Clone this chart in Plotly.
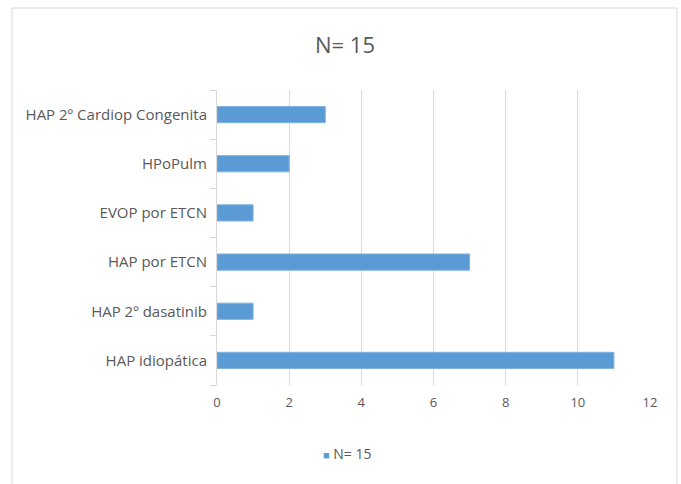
import plotly.graph_objects as go

# Diagnósticos (de abajo hacia arriba) y número de pacientes
categorias = ["HAP idiopática", "HAP 2º dasatinib", "HAP por ETCN",
              "EVOP por ETCN", "HPoPulm", "HAP 2º Cardiop Congenita"]
pacientes = [11, 1, 7, 1, 2, 3]
serie = "N= 15"
x_ticks = [0, 2, 4, 6, 8, 10, 12]

W, H = 681, 484
ML, MR, MT, MB = 217, 31, 90, 99
pw, ph = W - ML - MR, H - MT - MB

gris_texto = "#595959"
gris_linea = "#d9d9d9"
azul = "#5b9bd5"
fuente = "Open Sans"

fig = go.Figure()
fig.add_trace(go.Bar(
    y=categorias, x=pacientes, orientation="h",
    marker=dict(color=azul, line=dict(color="#7fb2e0", width=1)),
    name=serie, showlegend=False,
))

def px_x(p):
    return (p - ML) / pw

def px_y(p):
    return (H - MB - p) / ph

fig.update_layout(
    width=W, height=H,
    margin=dict(l=ML, r=MR, t=MT, b=MB),
    paper_bgcolor="white", plot_bgcolor="white",
    font=dict(family=fuente, size=12, color=gris_texto),
    bargap=0.67,
    showlegend=False,
    title=dict(text="N= 15", x=345 / W, xanchor="center",
               y=1 - 45 / H, yanchor="middle",
               font=dict(family=fuente, size=22, color=gris_texto)),
    xaxis=dict(range=[0, 12], tickvals=x_ticks, showgrid=True,
               gridcolor=gris_linea, gridwidth=1, zeroline=False,
               showline=False, ticks="", tickfont=dict(size=13, color=gris_texto),
               ticklabelstandoff=8, fixedrange=True),
    yaxis=dict(showline=True, linecolor=gris_linea, linewidth=1,
               ticks="outside", tickson="boundaries", ticklen=6,
               tickcolor=gris_linea, showgrid=False,
               tickfont=dict(size=15, color=gris_texto),
               ticklabelstandoff=6, categoryorder="array",
               categoryarray=categorias),
    annotations=[dict(
        xref="paper", yref="paper", x=px_x(347), y=px_y(453),
        xanchor="center", yanchor="middle", showarrow=False,
        text=f"<span style='color:{azul};font-size:11px'>■</span> {serie}",
        font=dict(family=fuente, size=14, color=gris_texto),
    )],
    shapes=[dict(type="rect", xref="paper", yref="paper",
                 x0=px_x(12), x1=px_x(677), y0=px_y(490), y1=px_y(8),
                 line=dict(color=gris_linea, width=1), layer="below")],
)

fig.write_html("out.html")
